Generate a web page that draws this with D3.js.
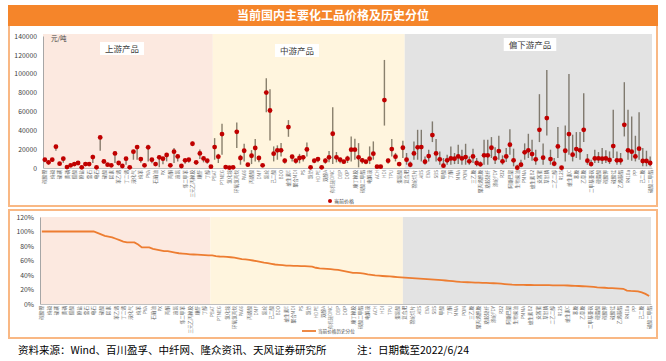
<!DOCTYPE html>
<html>
<head>
<meta charset="utf-8">
<script src="https://cdn.jsdelivr.net/npm/d3@7/dist/d3.min.js"></script>
<style>
body { margin:0; background:#fff; }
svg text { font-family: "Noto Sans CJK SC", "Noto Sans", sans-serif; }
</style>
</head>
<body>
<div id="chart"></div>
<script>
//Dados
var names = [
	"碳酸锂","液氯","纯碱","乙烯焦油","硫磺","氢氟酸","黄磷","工业萘","醋酸","甲醇",
	"原盐","石油焦","萤石","电子级硫酸","电石","乙醇","硫酸","烧碱","尿素","丙烯",
	"苯乙烯","甲苯","丁二烯","煤焦油","液化气","二甲苯","纯苯","合成氨","PVA","乙烯",
	"石脑油","丙烷","PX","甲醛","丙酮","苯酚","液氨","硝酸","邻二甲苯","环氧丙烷",
	"三元乙丙橡胶","炭黑","顺酐","辛醇","丁醇","醋酸乙烯",
	"PBAT","环氧树脂","PTMEG","液碱","氯化铵","草酸","环氧氯丙烷","己内酰胺","PA66","天然橡胶",
	"丙烯酸","丙烯腈","DMF","丙烯酸丁酯","氨纶","三氯蔗糖","己二酸","MIBK","BDO","聚醚多元醇",
	"维生素E","TDI","聚合MDI","纯MDI","PS","聚碳酸酯","氯仿","二氯甲烷","HDPE","苯酐",
	"双酚A","醋酸丁酯","有机硅DMC","乙酸乙酯","DBP","异丙醇","DOP","丁苯橡胶","顺丁橡胶","甲基丙烯酸",
	"碳酸二甲酯","丁基橡胶","电解液","磷酸铁","ACH","LDPE","HDI","苏氨酸","TPU","钛白粉",
	"蛋氨酸","赖氨酸",
	"复合肥","甲胺","锦纶切片","维生素A","ABS","PA6","EVA","维生素D3","SBS","PVC",
	"甲酸","LLDPE","丁酮","PET","MMA","PBT","POM","二甘醇","三乙胺","乙二醇丁醚",
	"聚丙烯酰胺","涤纶POY","粘胶短纤","腈纶","涤纶FDY","R22","R32","R134a","阿斯巴甜","甜菊糖",
	"生物柴油","PTA","PMMA","氨纶丝","维生素B2","维生素K3","安赛蜜","二甲醚","草甘膦","草铵膦",
	"二乙二醇","烯草酮","R125","吡虫啉","维生素C","涤纶DTY","苯胺","环己酮","乙草胺","醋酐",
	"二甲基亚砜","BOPP","硬脂酸","氯化石蜡","碳酸钾","聚醚胺","硫酸锰","三聚氰胺","乙烯基酯","硝酸铵",
	"R410a","PVB","PP","丁辛醇","己二胺","异氰酸酯","硫酸二甲酯"
];
var groups = [
	{ name: "上游产品", start: 0, end: 46 },
	{ name: "中游产品", start: 46, end: 98 },
	{ name: "偏下游产品", start: 98, end: 165 }
];
//当前价格 (元/吨)
var price = [
	8800,6000,8800,22600,4600,9900,1000,2800,4200,5300,
	700,4200,4200,11600,700,32400,7000,3500,2800,15500,
	5300,2100,9900,700,17300,22200,9500,2800,21900,8800,
	4200,11300,9900,13800,2800,17300,12300,2100,8100,8800,
	25700,6000,15500,10200,7800,1400,
	22200,12000,36000,1000,300,700,38400,10600,18300,3500,
	13000,21200,10600,2800,80000,61000,15200,18700,18700,7800,
	43400,12000,7800,10600,11300,19700,700,7800,9500,700,
	7800,11300,36300,11300,8800,6700,9900,19400,19400,11300,
	8100,6700,9900,15200,1400,1400,72000,7800,20100,12000,
	4200,21500,
	8800,3500,15500,21900,22200,6700,12700,34900,15500,9200,
	2500,8100,10200,9900,12300,10200,11600,7100,12300,5300,
	3900,13400,13400,21500,10200,18000,7100,12300,24700,8100,
	350,3500,16600,18700,14800,9200,40500,10900,52900,9500,
	4600,22900,350,18300,36000,14100,20100,18700,40500,7800,
	4200,10200,10200,9900,10200,8500,23300,8100,8100,45800,
	18700,17300,12300,20500,7400,7400,5300
];
//历史最高价
var priceHigh = [
	10500,8000,10000,24700,6000,12000,1500,3500,5000,6500,
	1000,5000,5000,14100,900,33500,8000,4200,3500,17500,
	6500,3000,11500,1000,18300,24000,10500,3500,24700,10000,
	5000,13400,11500,15500,3500,21200,14000,3000,9500,10000,
	28000,7000,19500,11500,9000,2000,
	31700,15000,46900,1500,600,1000,48300,14000,25700,5000,
	19000,30700,13000,4000,95100,83600,22900,24000,26400,10000,
	50800,14000,9500,15000,13500,27100,1000,9000,11000,1000,
	10000,18000,64500,17000,11000,8000,13000,33500,31000,26400,
	10500,8500,22900,28200,2000,2000,114600,10000,30700,16000,
	6000,28900,
	15900,7000,28200,40500,40500,12300,19400,49400,30700,17600,
	10600,14100,22900,15900,24700,19400,25700,12300,20500,10600,
	7000,29900,29900,32800,21900,34200,13400,21200,41200,20500,
	3500,8800,26100,36300,29900,19400,78300,26100,104000,19400,
	10600,43400,1800,45100,99800,35300,38100,38100,79300,14800,
	8800,19400,16900,21200,18700,17600,61700,17600,15900,91000,
	61700,54700,34200,59200,21200,18300,12300
];
//历史最低价
var priceLow = [
	6000,3500,6500,18300,3000,5500,600,1500,3000,4000,
	400,3000,2500,5300,300,18300,4500,2500,1800,5300,
	3000,1000,3500,300,8800,8800,5500,1500,7000,5000,
	3000,700,4000,7000,1500,5300,7000,1000,4500,5500,
	24000,3500,9500,6000,4500,800,
	8800,5300,14100,500,100,300,21200,3500,7000,1500,
	4200,7000,6000,1500,59200,29200,7000,8800,12300,4500,
	33100,7000,4500,5000,7000,12300,300,5000,6000,300,
	4500,6000,4200,6000,5000,4500,5300,7000,8800,700,
	4500,4000,4200,8800,700,700,45000,4500,12300,7000,
	2500,10600,
	3500,700,8800,8800,7000,3500,7000,27500,7000,3500,
	700,3500,3500,4200,4200,3500,3500,3500,5300,1800,
	1800,3500,3500,10600,4200,8800,3500,6300,14100,1800,
	0,700,8800,10600,7800,3500,27500,3500,34600,3500,
	1800,10600,0,7000,14100,7000,10600,8800,27500,3500,
	1800,5300,5300,4200,5300,4200,10600,3500,3500,33500,
	8800,7800,7000,8800,1800,1800,1800
];
//当前价格历史分位 (%)
var percentile = [
	100,100,100,100,100,100,100,100,100,100,
	100,100,100,100,100,98,96,94,93,92,
	90,88,86,85,85,85,82,78,78,78,
	76,75,74,73,73,72,71,70,69.5,69,
	68.5,68.3,68,67.8,67.5,67.2,
	67,66,65.5,65.3,65,64.5,64,63,62,61.5,
	61,60,59,58,57,56.5,55.5,54.5,54,53.5,
	53,52.8,52.6,52.5,52.3,52.2,52,51.5,50,49,
	48.8,48.5,48,47.5,47,46,45,44,43,42.8,
	42.5,42,41,40.3,39.5,39,38.6,38.3,38,37.6,
	37.2,36.8,
	36.4,36,35.7,35.4,35,34.6,34.3,34,33.6,33.2,
	32.8,32.4,32,31.5,31,30.5,30.2,30,29.8,29.6,
	29.4,29.2,29,28.8,28.6,28.4,28,27.5,27,26.6,
	26.5,26.4,26.3,26.2,26.2,26.1,26,26,25.9,25.9,
	25.8,25.8,25.7,25.7,25.5,25.2,25,24.8,24.5,24.2,
	24,23.5,23,22.7,22.4,22,21.8,21.5,21.2,21,
	18.5,18,17.8,17.4,16,14,11
];
var priceTicks = [0,20000,40000,60000,80000,100000,120000,140000];
var pctTicks = [0,20,40,60,80,100,120];
var bandColors = ["#FCE9E0","#FFF5DE","#E3E3E3"];

(function () {
	'use strict';
	var W = 666, H = 361;
	var svg = d3.select("#chart").append("svg")
		.attr("width", W)
		.attr("height", H);
	svg.append("rect").attr("width", W).attr("height", H).attr("fill", "#fff");

	//Molduras e título
	svg.append("rect")
		.attr("x", 9).attr("y", 25).attr("width", 648).attr("height", 181)
		.attr("fill", "none").attr("stroke", "#F9B884").attr("stroke-width", 2);
	svg.append("rect")
		.attr("x", 9).attr("y", 210).attr("width", 648).attr("height", 128)
		.attr("fill", "none").attr("stroke", "#F9B884").attr("stroke-width", 2);
	svg.append("rect")
		.attr("x", 8).attr("y", 5).attr("width", 650).attr("height", 21)
		.attr("fill", "#F5852A");
	svg.append("text")
		.attr("x", 333).attr("y", 20)
		.attr("text-anchor", "middle")
		.attr("fill", "#fff")
		.attr("font-size", 12)
		.attr("font-weight", "bold")
		.text("当前国内主要化工品价格及历史分位");

	var idx = d3.range(names.length);

	function drawAxisX(g, x, y0) {
		var ax = g.append("g")
			.attr("transform", "translate(0," + y0 + ")")
			.call(d3.axisBottom(x)
				.tickValues(idx.filter(function(i) { return i % 2 === 0; }))
				.tickSize(0)
				.tickFormat(function(i) { return names[i]; }));
		ax.select(".domain").attr("stroke", "#BFBFBF");
		ax.selectAll("text")
			.attr("font-size", 4.6)
			.attr("fill", "#6B6B6B")
			.attr("text-anchor", "end")
			.attr("dy", "0.35em")
			.attr("transform", "translate(0,2) rotate(-90)")
			.attr("x", 0).attr("y", 0);
	}

	function drawBands(g, x, y0, y1) {
		groups.forEach(function(gr, k) {
			var a = x(gr.start), b = x(gr.end - 1) + x.bandwidth();
			if (k === groups.length - 1) b = x.range()[1];
			g.append("rect")
				.attr("x", a).attr("y", y0)
				.attr("width", b - a).attr("height", y1 - y0)
				.attr("fill", bandColors[k]);
		});
	}

	//Gráfico superior: preços
	var m1 = { left: 43, right: 652, top: 36, bottom: 168 };
	var xP = d3.scaleBand().domain(idx).range([m1.left, m1.right]).padding(0);
	var yP = d3.scaleLinear().domain([0, 140000]).range([m1.bottom, m1.top]);
	var g1 = svg.append("g");
	drawBands(g1, xP, 34, m1.bottom);

	var yAx1 = g1.append("g")
		.attr("transform", "translate(" + m1.left + ",0)")
		.call(d3.axisLeft(yP).tickValues(priceTicks).tickSize(0).tickPadding(6)
			.tickFormat(d3.format("d")));
	yAx1.select(".domain").attr("stroke", "#A6A6A6");
	yAx1.selectAll("text").attr("font-size", 6.8).attr("fill", "#404040");
	drawAxisX(g1, xP, m1.bottom);

	g1.append("text")
		.attr("x", 51).attr("y", 41)
		.attr("font-size", 6.5).attr("fill", "#404040")
		.text("元/吨");

	var labelPos = [[122, 49], [297, 51], [530, 45]];
	groups.forEach(function(gr, k) {
		var w = gr.name.length * 8.5 + 10;
		g1.append("rect")
			.attr("x", labelPos[k][0] - w / 2).attr("y", labelPos[k][1] - 7)
			.attr("width", w).attr("height", 13)
			.attr("fill", "#fff");
		g1.append("text")
			.attr("x", labelPos[k][0]).attr("y", labelPos[k][1] + 3)
			.attr("text-anchor", "middle")
			.attr("font-size", 8.5).attr("fill", "#404040")
			.text(gr.name);
	});

	g1.selectAll(".range")
		.data(idx)
		.enter()
		.append("line")
		.attr("class", "range")
		.attr("x1", function(i) { return xP(i) + xP.bandwidth() / 2; })
		.attr("x2", function(i) { return xP(i) + xP.bandwidth() / 2; })
		.attr("y1", function(i) { return yP(priceLow[i]); })
		.attr("y2", function(i) { return yP(priceHigh[i]); })
		.attr("stroke", "#4A4030")
		.attr("stroke-opacity", 0.65)
		.attr("stroke-width", 1.4);
	g1.selectAll(".dot")
		.data(idx)
		.enter()
		.append("circle")
		.attr("class", "dot")
		.attr("cx", function(i) { return xP(i) + xP.bandwidth() / 2; })
		.attr("cy", function(i) { return yP(price[i]); })
		.attr("r", 2.4)
		.attr("fill", "#C00000");

	//Legenda superior
	g1.append("circle").attr("cx", 330).attr("cy", 201).attr("r", 2).attr("fill", "#C00000");
	g1.append("text")
		.attr("x", 334).attr("y", 203)
		.attr("font-size", 5).attr("fill", "#404040")
		.text("当前价格");

	//Gráfico inferior: percentil
	var m2 = { left: 40, right: 651, top: 217, bottom: 304 };
	var xQ = d3.scaleBand().domain(idx).range([m2.left, m2.right]).padding(0);
	var yQ = d3.scaleLinear().domain([0, 120]).range([m2.bottom, m2.top]);
	var g2 = svg.append("g");
	drawBands(g2, xQ, m2.top, m2.bottom);

	var yAx2 = g2.append("g")
		.attr("transform", "translate(" + m2.left + ",0)")
		.call(d3.axisLeft(yQ).tickValues(pctTicks).tickSize(0).tickPadding(6)
			.tickFormat(function(d) { return d + "%"; }));
	yAx2.select(".domain").attr("stroke", "#A6A6A6");
	yAx2.selectAll("text").attr("font-size", 6.8).attr("fill", "#404040");
	drawAxisX(g2, xQ, m2.bottom);

	var line = d3.line()
		.x(function(i) { return xQ(i) + xQ.bandwidth() / 2; })
		.y(function(i) { return yQ(percentile[i]); });
	g2.append("path")
		.datum(idx)
		.attr("fill", "none")
		.attr("stroke", "#ED7D31")
		.attr("stroke-width", 1.8)
		.attr("d", line);

	//Legenda inferior
	g2.append("line")
		.attr("x1", 302).attr("x2", 316).attr("y1", 331).attr("y2", 331)
		.attr("stroke", "#ED7D31").attr("stroke-width", 1.8);
	g2.append("text")
		.attr("x", 318).attr("y", 333)
		.attr("font-size", 4.6).attr("fill", "#404040")
		.text("当前价格历史分位");

	//Rodapé
	svg.append("text")
		.attr("x", 18).attr("y", 354)
		.attr("font-size", 10.5).attr("fill", "#000")
		.text("资料来源：Wind、百川盈孚、中纤网、隆众资讯、天风证券研究所");
	svg.append("text")
		.attr("x", 357).attr("y", 354)
		.attr("font-size", 10.5).attr("fill", "#000")
		.text("注：日期截至2022/6/24");
}());
</script>
</body>
</html>
